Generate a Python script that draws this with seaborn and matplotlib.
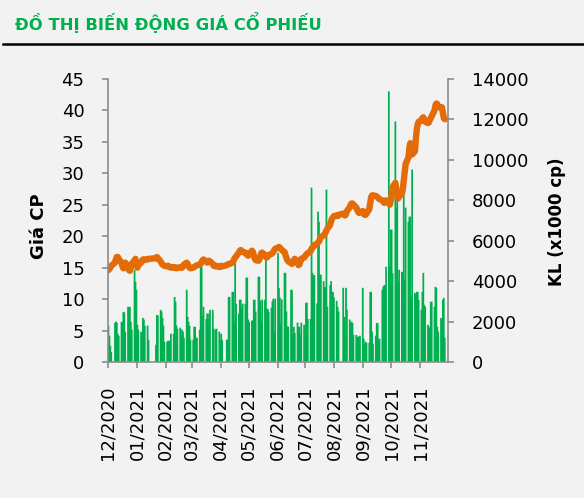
import numpy as np
import pandas as pd
import matplotlib
matplotlib.use("Agg")
import matplotlib.pyplot as plt
import matplotlib.dates as mdates
from matplotlib.lines import Line2D
import seaborn as sns

# ---------------- data ----------------
title = "ĐỒ THỊ BIẾN ĐỘNG GIÁ CỔ PHIẾU"
ylabel_left = "Giá CP"
ylabel_right = "KL (x1000 cp)"

start_date = "2020-12-28"
end_date = "2021-12-24"
holidays = ["2021-01-01", "2021-02-10", "2021-02-11", "2021-02-12", "2021-02-15",
            "2021-02-16", "2021-04-21", "2021-04-30", "2021-05-03", "2021-09-02",
            "2021-09-03"]

tick_dates = ["2020-12-28", "2021-01-28", "2021-02-28", "2021-03-28", "2021-04-28",
              "2021-05-28", "2021-06-28", "2021-07-28", "2021-08-28", "2021-09-28",
              "2021-10-28", "2021-11-28"]
tick_labels = ["12/2020", "01/2021", "02/2021", "03/2021", "04/2021", "05/2021",
               "06/2021", "07/2021", "08/2021", "09/2021", "10/2021", "11/2021"]

price = [
    14.6, 14.8, 15.0, 15.3,
    15.8, 16.3, 16.7, 16.7, 16.4,
    15.8, 15.2, 14.9, 15.3, 15.8,
    15.2, 14.6, 14.5, 15.0, 15.6,
    16.2, 16.4, 15.6, 15.0, 15.4,
    15.8, 16.1, 16.3, 16.2, 16.3,
    16.3, 16.4,
    16.5, 16.7, 16.5,
    16.0, 15.7, 15.5, 15.4, 15.3,
    15.2, 15.3, 15.2, 15.1, 15.0,
    15.1, 15.0, 15.0, 14.9, 15.0,
    15.0, 15.1, 15.0, 15.2, 15.5,
    15.8, 15.6, 15.2, 15.0, 14.9,
    15.0, 15.1, 15.2, 15.3, 15.4,
    15.5, 15.6, 15.9, 16.2, 16.3,
    16.0, 15.8, 16.0, 16.1, 16.0,
    15.6, 15.3, 15.2, 15.3,
    15.1, 15.2, 15.3, 15.2,
    15.4, 15.5, 15.6, 15.6,
    15.8, 16.0, 16.4, 16.6, 16.8,
    17.4, 17.7, 17.8, 17.7, 17.5,
    17.4, 17.2, 17.0, 16.9, 17.2,
    17.7, 17.5, 17.0, 16.5, 16.2,
    16.1, 16.3, 16.8, 17.3, 17.4,
    17.0, 16.7, 16.6, 16.8, 17.0,
    17.2, 17.3, 17.5, 17.8, 18.0,
    18.2, 18.3, 18.2, 18.0, 17.8,
    17.5, 17.0, 16.6, 16.2, 16.0,
    15.7, 15.6, 15.8, 16.2, 16.4,
    16.0, 15.4, 15.5, 16.0, 16.4,
    16.6, 16.8, 17.0, 17.2, 17.3,
    17.6, 18.0, 18.2, 18.3, 18.6,
    18.8, 19.0, 19.2, 19.5, 19.9,
    20.1, 20.3, 20.6, 20.9, 21.2,
    21.8, 22.4, 22.8, 23.0, 23.2,
    23.3, 23.2, 23.4,
    23.6, 23.4, 23.3, 23.5, 24.0,
    24.6, 25.0, 25.2, 25.2, 25.0,
    24.6, 24.2, 23.9, 23.7, 23.8,
    24.0, 23.6, 23.4, 23.4, 23.6,
    24.3, 25.3, 26.2, 26.5, 26.5,
    26.4, 26.3, 26.2, 26.0, 25.9,
    25.7, 25.5, 25.3, 25.4, 25.7,
    25.4, 25.0, 25.6, 26.6, 27.8,
    28.5, 27.5, 26.5, 26.0, 26.3,
    26.8, 27.5, 28.8, 30.2, 31.5,
    32.5, 34.0, 34.8, 34.2, 33.0,
    33.5, 35.5, 37.0, 37.8, 38.2,
    38.4, 38.8, 38.9, 38.6, 38.2,
    38.0, 38.1, 38.5, 38.8, 39.1,
    40.0, 40.8, 41.1, 41.0, 40.6,
    40.4, 40.5, 39.6, 38.8, 38.6,
]

volume = [
    1800, 1300, 800, 500,
    1930, 2000, 1950, 1400, 1300,
    1980, 2000, 2480, 2450, 1500,
    2730, 2700, 2730, 2000, 1600,
    4560, 3970, 3570, 1835, 1600,
    1500, 1400, 2180, 2100, 1800,
    1800, 1100,
    850, 2330, 2300,
    2580, 2500, 2180, 1800, 1000,
    1000, 1050, 1050, 1000, 1400,
    1400, 3220, 2980, 1800, 1640,
    1700, 1340, 1600, 1500, 1200,
    3570, 2230, 1990, 1800, 1100,
    1100, 1740, 1740, 1200, 1200,
    1600, 4710, 4710, 2300, 2730,
    2130, 2400, 2130, 2400, 2580,
    2580, 1650, 1600, 1650,
    1500, 1100, 1400, 1100,
    1100, 1100, 3220, 3220,
    3470, 3470, 2000, 5060, 2880,
    2400, 3080, 3080, 2700, 2880,
    2880, 4170, 4170, 2100, 1980,
    2050, 2050, 3080, 3080, 2500,
    4220, 4220, 3030, 2000, 3080,
    3080, 5060, 2630, 2630, 2480,
    2680, 3000, 3130, 1500, 3130,
    5400, 3670, 3200, 1900, 3100,
    4410, 4410, 2500, 1750, 1750,
    3570, 3570, 1340, 1740, 1440,
    1950, 1740, 1740, 1340, 1950,
    1840, 1440, 2930, 2930, 2130,
    2130, 8630, 4410, 4300, 4300,
    2900, 7440, 6940, 4320, 4320,
    4000, 3700, 3700, 8530, 2730,
    3800, 4000, 3470, 3470, 3200,
    3030, 2730, 2500,
    3670, 2230, 1400, 3670, 2600,
    2100, 1930, 2000, 1930, 1340,
    1340, 1250, 1250, 1250, 1300,
    3670, 1150, 900, 1000, 950,
    950, 3470, 3470, 1500, 900,
    1300, 1930, 1930, 1150, 1150,
    3570, 3720, 3800, 3800, 4710,
    13390, 4710, 6550, 6550, 4400,
    11900, 7640, 8380, 3970, 4560,
    4460, 4460, 8530, 4100, 7640,
    6940, 7190, 7190, 3220, 9520,
    3420, 3320, 3470, 3470, 3070,
    2580, 3470, 4410, 2830, 2730,
    1840, 1740, 1640, 2980, 2980,
    2730, 3720, 3670, 1740, 1500,
    2180, 2100, 3080, 3170, 1190,
]

# ---------------- style ----------------
BG = "#f2f2f2"
GREEN = "#00B050"
ORANGE = "#E36C09"
AXIS = "#8c8c8c"

plt.rcParams["font.family"] = ["DejaVu Sans"]

days = pd.bdate_range(start_date, end_date)
days = days[~days.isin(pd.to_datetime(holidays))]
xnum = mdates.date2num(days.to_pydatetime()) + 0.5   # between tick marks (date axis)
df = pd.DataFrame({"x": xnum, "price": price, "volume": volume})

W, H = 584, 498
fig = plt.figure(figsize=(W / 100, H / 100), dpi=100, facecolor=BG)
ax = fig.add_axes([108 / W, 1 - 362 / H, 340 / W, 283 / H])
ax2 = ax.twinx()

# volume bars (right axis)
sns.barplot(data=df, x="x", y="volume", native_scale=True, width=1.9,
            color=GREEN, saturation=1, linewidth=0, errorbar=None, ax=ax2,
            snap=False)
# price line (left axis)
sns.lineplot(data=df, x="x", y="price", color=ORANGE, linewidth=4.6, ax=ax,
             solid_capstyle="round", solid_joinstyle="round")

ax.set_zorder(ax2.get_zorder() + 1)
ax.patch.set_visible(False)
ax2.patch.set_visible(False)

x0 = mdates.date2num(pd.Timestamp(start_date))
ax.set_xlim(x0, x0 + 365)
ax2.set_xlim(x0, x0 + 365)
ax.set_ylim(0, 45)
ax2.set_ylim(0, 14000)
ax.set_yticks(np.arange(0, 46, 5))
ax2.set_yticks(np.arange(0, 14001, 2000))
ax.set_xticks(mdates.date2num(pd.to_datetime(tick_dates).to_pydatetime()))
ax.set_xticklabels(tick_labels, rotation=90)

for a in (ax, ax2):
    a.set_xlabel("")
    a.set_ylabel("")
    for s in a.spines.values():
        s.set_color(AXIS)
        s.set_linewidth(1.2)
    a.spines["top"].set_visible(False)
ax.spines["right"].set_visible(False)
ax2.spines["left"].set_visible(False)
ax2.spines["bottom"].set_visible(False)

ax.tick_params(axis="both", direction="out", length=4.5, width=1.2, color=AXIS,
               labelsize=13, labelcolor="black", pad=12.5)
ax2.tick_params(axis="y", direction="out", length=4.5, width=1.2, color=AXIS,
                labelsize=13, labelcolor="black", pad=12.5)
ax2.tick_params(axis="x", bottom=False, labelbottom=False)

fig.text(38.5 / W, 1 - 226 / H, ylabel_left, rotation=90, ha="center", va="center",
         fontsize=13, fontweight="bold")
fig.text(557 / W, 1 - 222 / H, ylabel_right, rotation=90, ha="center", va="center",
         fontsize=12, fontweight="bold")

fig.text(15 / W, 1 - 30 / H, title, ha="left", va="baseline", color=GREEN,
         fontsize=11.8, fontweight="bold")
fig.add_artist(Line2D([3 / W, 1], [1 - 44.5 / H, 1 - 44.5 / H], color="black", lw=1.8))

fig.savefig("out.png", dpi=100, facecolor=BG)
